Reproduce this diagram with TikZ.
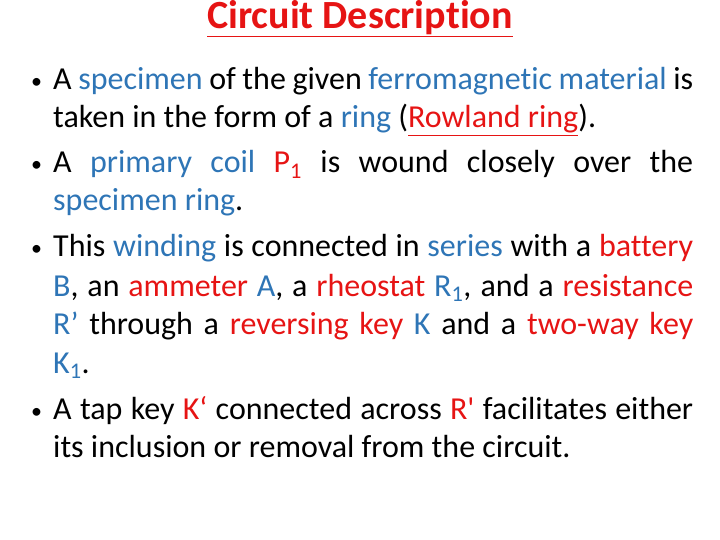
\documentclass[tikz,border=0pt]{standalone}
\usepackage{fontspec}
\setmainfont[Ligatures=NoCommon]{Carlito}
\definecolor{bl}{RGB}{46,117,182}
\definecolor{rd}{RGB}{230,20,20}
\newcommand{\B}[1]{\textcolor{bl}{#1}}
\newcommand{\R}[1]{\textcolor{rd}{#1}}
\newcommand{\J}[1]{\makebox[640bp][s]{#1}}
\begin{document}
\begin{tikzpicture}[x=1bp,y=1bp,
  ln/.style={anchor=base west,inner sep=0pt,font=\fontsize{32bp}{38bp}\selectfont},
  bu/.style={anchor=base west,inner sep=0pt,font=\fontsize{22bp}{28bp}\selectfont}]
\useasboundingbox (0,0) rectangle (720,-540);
\node[anchor=base,inner sep=0pt,font=\fontsize{40bp}{46bp}\selectfont\bfseries,text=rd] (t) at (360,-29) {\underline{Circuit Description}};
\node[bu] (b1) at (31,-89) {•};
\node[bu] (b2) at (31,-172) {•};
\node[bu] (b3) at (31,-256) {•};
\node[bu] (b4) at (31,-418) {•};
\node[ln] (l1) at (53,-90) {\J{A \B{specimen} of the given \B{ferromagnetic material} is}};
\node[ln] (l2) at (53,-128) {taken in the form of a \B{ring} (\R{\underline{Rowland ring}}).};
\node[ln] (l3) at (53,-173) {\J{A \B{primary coil} \R{P\textsubscript{1}} is wound closely over the}};
\node[ln] (l4) at (53,-211) {\B{specimen ring}.};
\node[ln] (l5) at (53,-257) {\J{This \B{winding} is connected in \B{series} with a \R{battery}}};
\node[ln] (l6) at (53,-296) {\J{\B{B}, an \R{ammeter} \B{A}, a \R{rheostat} \B{R\textsubscript{1}}, and a \R{resistance}}};
\node[ln] (l7) at (53,-334) {\J{\B{R’} through a \R{reversing key} \B{K} and a \R{two-way key}}};
\node[ln] (l8) at (53,-373) {\B{K\textsubscript{1}}.};
\node[ln] (l9) at (53,-419) {\J{A tap key \R{K‘} connected across \R{R\textquotesingle} facilitates either}};
\node[ln] (l10) at (53,-457) {its inclusion or removal from the circuit.};
\end{tikzpicture}
\end{document}
